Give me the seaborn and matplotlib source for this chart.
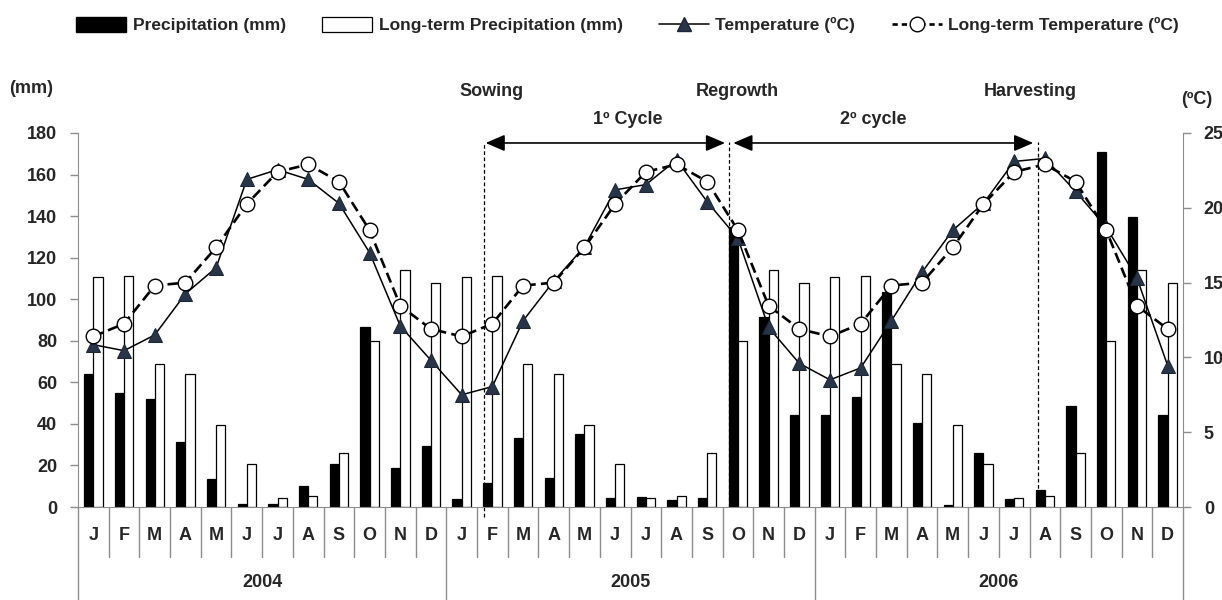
import numpy as np
import pandas as pd
import seaborn as sns
import matplotlib.pyplot as plt
from matplotlib.patches import Patch
from matplotlib.lines import Line2D

# monthly data
month_letters = list("JFMAMJJASOND")
years = ["2004", "2005", "2006"]

precip_2004 = [64, 55, 52, 31.5, 13.5, 1.5, 1.3, 10, 20.5, 86.5, 19, 29.5]
precip_2005 = [4, 11.5, 33, 14, 35, 4.4, 5, 3.2, 4.2, 135, 91.5, 44.5]
precip_2006 = [44.5, 53, 103.5, 40.5, 1.1, 26, 4, 8, 48.5, 171, 139.5, 44.5]
lt_precip = [110.7, 111.2, 68.8, 64, 39.3, 20.8, 4.4, 5.5, 26.1, 80.1, 113.9, 107.8]

temp_2004 = [10.85, 10.45, 11.5, 14.25, 16.0, 21.9, 22.55, 21.9, 20.3, 17.0, 12.1, 9.8]
temp_2005 = [7.5, 8.05, 12.45, 15.1, 17.4, 21.2, 21.55, 23.2, 20.4, 17.95, 12.0, 9.6]
temp_2006 = [8.5, 9.3, 12.45, 15.7, 18.5, 20.3, 23.1, 23.3, 21.1, 18.7, 15.3, 9.45]
lt_temp = [11.4, 12.25, 14.8, 15.0, 17.35, 20.25, 22.4, 22.9, 21.75, 18.5, 13.45, 11.9]

events = ["Sowing", "Regrowth", "Harvesting"]
event_x = [12.72, 20.72, 30.76]

sns.set_style("white")
plt.rcParams["font.family"] = ["Liberation Sans", "DejaVu Sans"]
plt.rcParams["font.weight"] = "bold"

n = 36
idx = np.arange(n)
precip = precip_2004 + precip_2005 + precip_2006
temp = temp_2004 + temp_2005 + temp_2006
df_bar = pd.DataFrame({
    "month": list(idx) * 2,
    "value": precip + lt_precip * 3,
    "series": ["Precipitation (mm)"] * n + ["Long-term Precipitation (mm)"] * n,
})

fig = plt.figure(figsize=(12.22, 6), dpi=100)
ax = fig.add_axes([78 / 1222, 93 / 600, 1105 / 1222, 374 / 600])

sns.barplot(data=df_bar, x="month", y="value", hue="series", order=list(idx),
            palette={"Precipitation (mm)": "black", "Long-term Precipitation (mm)": "white"},
            edgecolor="black", linewidth=0.9, width=0.6, legend=False, ax=ax)
ax.set_xlim(-0.5, 35.5)
ax.set_ylim(0, 180)
ax.set_yticks(range(0, 181, 20))
ax.set_xticks([])
ax.set_xlabel("")
ax.set_ylabel("")

ax2 = ax.twinx()
sns.lineplot(x=idx, y=temp, ax=ax2, color="black", lw=1.1, marker="^", markersize=10,
             markerfacecolor="#263548", markeredgecolor="#1c2636", errorbar=None)
sns.lineplot(x=idx, y=lt_temp * 3, ax=ax2, color="black", lw=1.9, linestyle=(0, (4, 2)),
             marker="o", markersize=10.5, markerfacecolor="white", markeredgecolor="black",
             markeredgewidth=1, errorbar=None)
ax2.set_ylim(0, 25)
ax2.set_yticks(range(0, 26, 5))
ax2.set_ylabel("")

for a in (ax, ax2):
    for s in a.spines.values():
        s.set_visible(False)
    a.tick_params(axis="y", length=6, width=1, color="#8c8c8c", pad=9, labelsize=13)
    for lab in a.get_yticklabels():
        lab.set_fontweight("bold")
ax.spines["left"].set_visible(True)
ax.spines["left"].set_color("#8c8c8c")
ax.spines["bottom"].set_visible(True)
ax.spines["bottom"].set_color("#8c8c8c")
ax2.spines["right"].set_visible(True)
ax2.spines["right"].set_color("#8c8c8c")
ax.tick_params(axis="y", left=True, right=False)
ax2.tick_params(axis="y", right=True, left=False)

# category axis: month cells and year cells
trans = ax.get_xaxis_transform()
for b in np.arange(-0.5, 36, 1):
    bottom = -0.249 if (b + 0.5) % 12 == 0 else -0.134
    ax.plot([b, b], [0, bottom], transform=trans, color="#8c8c8c", lw=1, clip_on=False)
for i in idx:
    ax.text(i, -0.075, month_letters[i % 12], transform=trans, ha="center", va="center",
            fontsize=13, fontweight="bold")
for k, y in enumerate(years):
    ax.text(12 * k + 5.5, -0.203, y, transform=trans, ha="center", va="center",
            fontsize=13, fontweight="bold")

# phenology markers
for x, lab in zip(event_x, events):
    ax.plot([x, x], [-5 if lab == "Sowing" else 0, 175.5], color="black", lw=0.9,
            linestyle=(0, (3, 2)), clip_on=False)
    ax.text(x + 0.25 if lab != "Harvesting" else x - 0.25, 200, lab, ha="center", va="center",
            fontsize=13, fontweight="bold", clip_on=False)

arrow = dict(arrowstyle="<|-|>,head_length=0.65,head_width=0.28", color="black", lw=1.2,
             mutation_scale=18, shrinkA=0, shrinkB=0)
ax.annotate("", xy=(20.58, 175.2), xytext=(12.78, 175.2), arrowprops=arrow, annotation_clip=False)
ax.annotate("", xy=(30.62, 175.2), xytext=(20.85, 175.2), arrowprops=arrow, annotation_clip=False)
ax.text(17.4, 186.5, "1º Cycle", ha="center", va="center", fontsize=13, fontweight="bold")
ax.text(25.4, 186.5, "2º cycle", ha="center", va="center", fontsize=13, fontweight="bold")

fig.text(31 / 1222, 1 - 88 / 600, "(mm)", ha="center", va="center", fontsize=13, fontweight="bold")
fig.text(1197 / 1222, 1 - 100 / 600, "(ºC)", ha="center", va="center", fontsize=13, fontweight="bold")

handles = [
    Patch(facecolor="black", edgecolor="black"),
    Patch(facecolor="white", edgecolor="black", linewidth=0.9),
    Line2D([], [], color="black", lw=1.1, marker="^", markersize=10,
           markerfacecolor="#263548", markeredgecolor="#1c2636"),
    Line2D([], [], color="black", lw=1.9, linestyle=(0, (2, 1.5)), marker="o", markersize=10.5,
           markerfacecolor="white", markeredgecolor="black"),
]
labels = ["Precipitation (mm)", "Long-term Precipitation (mm)",
          "Temperature (ºC)", "Long-term Temperature (ºC)"]
fig.legend(handles, labels, loc="center", bbox_to_anchor=(0.5135, 1 - 25 / 600), ncol=4,
           frameon=False, handlelength=2.9, handleheight=1.0, handletextpad=0.35,
           columnspacing=2.1, prop={"size": 12.5, "weight": "bold"})

fig.savefig("out.png", dpi=100)
